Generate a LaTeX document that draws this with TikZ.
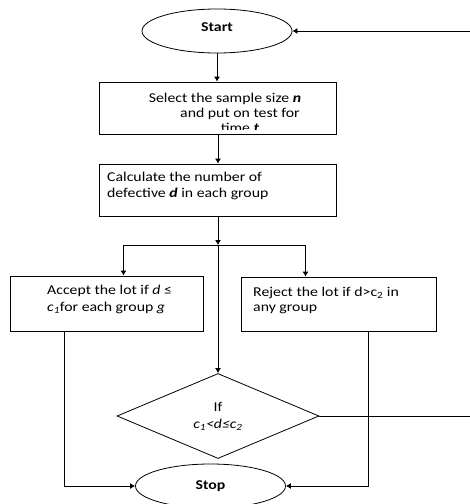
\documentclass[tikz,border=0pt]{standalone}
\usepackage{fontspec}
\setmainfont{Carlito}[FakeStretch=1.17]
\usepackage{tikz}
\usetikzlibrary{arrows.meta,shapes,positioning}
\tikzstyle{arrow} = [line width=0.8pt,->,>={Latex[length=5pt,width=6pt]}]
\tikzstyle{line} = [line width=0.8pt]
\tikzstyle{termbox} = [ellipse, draw, line width=0.8pt, minimum width=150pt, minimum height=44pt, inner sep=0pt, font=\fontsize{13.5}{16}\selectfont\bfseries]
\tikzstyle{stepbox} = [rectangle, draw, line width=0.8pt, inner sep=0pt]
\tikzstyle{decisionbox} = [diamond, draw, line width=0.8pt, minimum width=202pt, minimum height=85pt, inner sep=0pt, align=center, font=\fontsize{13.5}{17}\selectfont]
\tikzstyle{boxtext} = [inner sep=0pt, anchor=base west, align=left]

\begin{document}
\begin{tikzpicture}[x=1pt, y=-1pt]
\useasboundingbox (0,0) rectangle (470,504);
% Start
\node[termbox, text depth=7pt] (start) at (217,31) {Start};

% Sampling
\node[stepbox, minimum width=237pt, minimum height=52pt] (select) at (218,108) {};
\begin{scope}
\clip (select.north west) rectangle ([yshift=5pt]select.south east);
\node[boxtext, anchor=base, align=center, font=\fontsize{13.5}{15}\selectfont] (selecttext) at (240,132) {Select the sample size \textbf{\textit{n}}\hspace*{30pt}\\and put on test for\\time \textbf{\textit{t}}};
\end{scope}

% Counting
\node[stepbox, minimum width=237pt, minimum height=52pt] (calc) at (218,190) {};
\node[boxtext, font=\fontsize{13.5}{16}\selectfont] (calctext) at (107,197) {Calculate the number of\\defective \textbf{\textit{d}} in each group};

% Accept / Reject
\node[stepbox, minimum width=193pt, minimum height=55pt] (accept) at (106.5,303.5) {};
\node[boxtext, font=\fontsize{13.5}{17}\selectfont] (accepttext) at (47,311) {Accept the lot if \textit{d} ≤\\\textit{c\textsubscript{1}}for each group \textit{g}};
\node[stepbox, minimum width=195pt, minimum height=54pt] (reject) at (338.5,304) {};
\node[boxtext, font=\fontsize{13.5}{15}\selectfont] (rejecttext) at (253,311) {Reject the lot if d>c\textsubscript{2} in\\any group};

% Decision
\node[decisionbox] (check) at (218,416) {If\\\textit{c\textsubscript{1}<d≤c\textsubscript{2}}};

% Stop
\node[termbox] (stop) at (210.5,486) {Stop};

% Connectors
\coordinate (split) at (218,245);
\coordinate (backtop) at (470,31);
\coordinate (backlow) at (470,416);
\draw[arrow] (start.south) -- (start.south |- select.north);
\draw[arrow] (select.south) -- (calc.north);
\draw[arrow] (calc.south) -- (split);
\draw[arrow] (split) -| ([xshift=17pt]accept.north);
\draw[arrow] (split) -| ([xshift=-33pt]reject.north);
\draw[arrow] (split) -- (check.north);
\draw[arrow] ([xshift=-42.5pt]accept.south) |- (stop.west);
\draw[arrow] ([xshift=29.5pt]reject.south) |- (stop.east);
\draw[line] (check.east) -- (backlow);
\draw[arrow] (backtop) -- (start.east);
\end{tikzpicture}
\end{document}
